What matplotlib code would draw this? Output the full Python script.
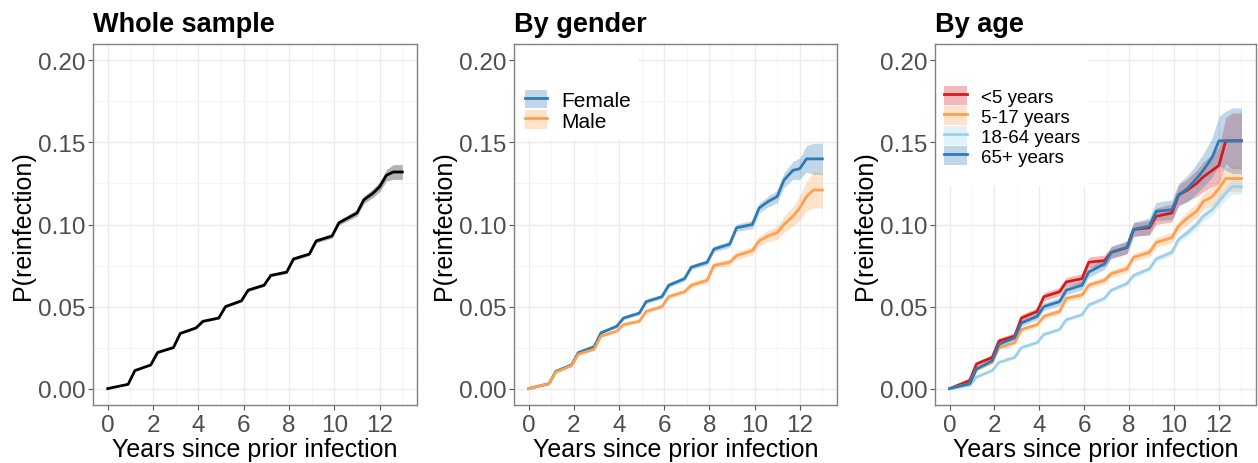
import matplotlib
matplotlib.use("Agg")
import matplotlib.pyplot as plt
from matplotlib.patches import Patch, Rectangle
from matplotlib.lines import Line2D

plt.rcParams['font.family'] = ['Liberation Sans', 'DejaVu Sans']

# time points (years since prior infection)
years = [0, 0.9, 1.2, 1.9, 2.2, 2.9, 3.2, 3.9, 4.2, 4.9, 5.2, 5.9, 6.2, 6.9, 7.2,
         7.9, 8.2, 8.9, 9.2, 9.9, 10.2, 10.6, 11.0, 11.3, 11.7, 12.0, 12.3, 12.6, 13.0]

# whole sample
whole = [0, 0.0026, 0.011, 0.0144, 0.022, 0.025, 0.0336, 0.037, 0.041, 0.043, 0.050,
         0.0535, 0.060, 0.063, 0.069, 0.071, 0.079, 0.082, 0.090, 0.093, 0.101, 0.104,
         0.107, 0.115, 0.119, 0.123, 0.130, 0.132, 0.132]
whole_ci = [0, 0.0003, 0.0004, 0.0004, 0.0005, 0.0005, 0.0005, 0.0006, 0.0006, 0.0006, 0.0007,
            0.0007, 0.0008, 0.0008, 0.0009, 0.0009, 0.001, 0.001, 0.0012, 0.0013, 0.0015, 0.0017,
            0.002, 0.0023, 0.0026, 0.003, 0.0035, 0.0045, 0.0045]

# by gender
female = [0, 0.003, 0.0105, 0.0145, 0.022, 0.0255, 0.034, 0.038, 0.043, 0.046, 0.053,
          0.056, 0.063, 0.067, 0.074, 0.077, 0.085, 0.088, 0.098, 0.100, 0.110, 0.114,
          0.117, 0.127, 0.133, 0.134, 0.140, 0.140, 0.140]
female_ci = [0, 0.0005, 0.0007, 0.0007, 0.0008, 0.0008, 0.0009, 0.001, 0.001, 0.0011, 0.0012,
             0.0012, 0.0013, 0.0014, 0.0015, 0.0016, 0.0018, 0.0019, 0.0022, 0.0025, 0.003, 0.0033,
             0.0038, 0.0045, 0.0055, 0.0065, 0.008, 0.0095, 0.0095]
male = [0, 0.003, 0.010, 0.014, 0.021, 0.024, 0.032, 0.035, 0.039, 0.041, 0.047,
        0.050, 0.056, 0.059, 0.063, 0.066, 0.075, 0.077, 0.081, 0.084, 0.090, 0.093,
        0.095, 0.100, 0.105, 0.110, 0.117, 0.121, 0.121]
male_ci = [0, 0.0005, 0.0007, 0.0007, 0.0008, 0.0008, 0.0009, 0.001, 0.001, 0.0011, 0.0012,
           0.0012, 0.0013, 0.0014, 0.0016, 0.0017, 0.0019, 0.002, 0.0023, 0.0026, 0.003, 0.0035,
           0.004, 0.005, 0.006, 0.0075, 0.009, 0.011, 0.011]

# by age
age_lt5 = [0, 0.005, 0.015, 0.019, 0.029, 0.032, 0.043, 0.047, 0.056, 0.059, 0.065,
           0.067, 0.077, 0.078, 0.083, 0.086, 0.097, 0.098, 0.105, 0.107, 0.118, 0.121,
           0.125, 0.129, 0.133, 0.136, 0.151, 0.151, 0.151]
age_lt5_ci = [0, 0.001, 0.0015, 0.0016, 0.0018, 0.002, 0.0022, 0.0023, 0.0025, 0.0026, 0.0028,
              0.003, 0.0032, 0.0034, 0.0036, 0.0038, 0.004, 0.0045, 0.005, 0.0055, 0.006, 0.007,
              0.008, 0.009, 0.010, 0.011, 0.014, 0.017, 0.017]
age_5_17 = [0, 0.003, 0.012, 0.016, 0.025, 0.028, 0.036, 0.039, 0.044, 0.047, 0.055,
            0.057, 0.063, 0.066, 0.070, 0.073, 0.080, 0.083, 0.089, 0.092, 0.099, 0.104,
            0.108, 0.114, 0.117, 0.122, 0.128, 0.128, 0.128]
age_5_17_ci = [0, 0.0006, 0.001, 0.001, 0.0012, 0.0012, 0.0014, 0.0015, 0.0016, 0.0017, 0.0018,
               0.0019, 0.002, 0.0021, 0.0022, 0.0023, 0.0025, 0.0027, 0.003, 0.0032, 0.0035, 0.004,
               0.0045, 0.005, 0.0055, 0.006, 0.007, 0.008, 0.008]
age_18_64 = [0, 0.002, 0.007, 0.011, 0.016, 0.019, 0.025, 0.028, 0.033, 0.036, 0.042,
             0.045, 0.051, 0.055, 0.060, 0.064, 0.069, 0.073, 0.079, 0.083, 0.091, 0.095,
             0.100, 0.105, 0.109, 0.114, 0.119, 0.123, 0.123]
age_18_64_ci = [0, 0.0004, 0.0006, 0.0006, 0.0007, 0.0007, 0.0008, 0.0008, 0.0009, 0.0009, 0.001,
                0.001, 0.0011, 0.0012, 0.0013, 0.0014, 0.0015, 0.0016, 0.0018, 0.002, 0.0022, 0.0025,
                0.0028, 0.003, 0.0033, 0.0036, 0.004, 0.0045, 0.0045]
age_65 = [0, 0.003, 0.012, 0.017, 0.027, 0.031, 0.040, 0.044, 0.050, 0.053, 0.060,
          0.063, 0.071, 0.076, 0.083, 0.086, 0.097, 0.099, 0.108, 0.109, 0.118, 0.122,
          0.128, 0.133, 0.141, 0.151, 0.151, 0.151, 0.151]
age_65_ci = [0, 0.0008, 0.0012, 0.0013, 0.0015, 0.0017, 0.002, 0.0021, 0.0023, 0.0025, 0.0027,
             0.0029, 0.0031, 0.0034, 0.0037, 0.004, 0.0045, 0.005, 0.0055, 0.006, 0.007, 0.008,
             0.009, 0.010, 0.012, 0.015, 0.018, 0.020, 0.020]

xticks = [0, 2, 4, 6, 8, 10, 12]
yticks = [0.00, 0.05, 0.10, 0.15, 0.20]
ytick_labels = ['0.00', '0.05', '0.10', '0.15', '0.20']

c_red = '#D7191C'
c_orange = '#FDA04F'
c_lblue = '#9CD2E8'
c_blue = '#2C7BB6'

W, H = 1258, 464
fig = plt.figure(figsize=(W / 100, H / 100), dpi=100)


def make_axes(left_px, right_px, title):
    ax = fig.add_axes([left_px / W, (H - 406) / H, (right_px - left_px) / W, 361 / H])
    ax.set_xlim(-0.65, 13.65)
    ax.set_ylim(-0.01, 0.21)
    ax.set_xticks(xticks)
    ax.set_xticks([1, 3, 5, 7, 9, 11, 13], minor=True)
    ax.set_yticks(yticks)
    ax.set_yticklabels(ytick_labels)
    ax.set_yticks([0.025, 0.075, 0.125, 0.175], minor=True)
    ax.grid(which='major', color='#EBEBEB', lw=1.0)
    ax.grid(which='minor', color='#F3F3F3', lw=0.6)
    ax.set_axisbelow(True)
    ax.tick_params(which='major', labelsize=17.5, labelcolor='#4D4D4D', color='#555555',
                   length=3.5, width=0.8, pad=2)
    ax.tick_params(axis='x', which='major', pad=3)
    ax.tick_params(which='minor', length=0)
    for s in ax.spines.values():
        s.set_color('#808080')
        s.set_linewidth(1.0)
    ax.set_xlabel('Years since prior infection', fontsize=18, labelpad=1)
    ax.set_ylabel('P(reinfection)', fontsize=18, labelpad=2)
    ax.set_title(title, loc='left', fontsize=19.5, fontweight='bold', pad=9)
    return ax


def band(ax, y, ci, color, alpha):
    lo = [a - b for a, b in zip(y, ci)]
    hi = [a + b for a, b in zip(y, ci)]
    ax.fill_between(years, lo, hi, color=color, alpha=alpha, lw=0, zorder=1.5)


def legend_bg(ax, x1, y0):
    # white legend background that hides the grid behind it
    ax.add_patch(Rectangle((0, y0), x1, 0.995 - y0, transform=ax.transAxes,
                           facecolor='white', edgecolor='none', zorder=0.9))


# Panel 1
ax1 = make_axes(93, 417, 'Whole sample')
band(ax1, whole, whole_ci, '#555555', 0.45)
ax1.plot(years, whole, color='black', lw=2, zorder=2)

# Panel 2
ax2 = make_axes(514, 837, 'By gender')
legend_bg(ax2, 0.384, 0.737)
band(ax2, female, female_ci, c_blue, 0.3)
band(ax2, male, male_ci, c_orange, 0.3)
ax2.plot(years, female, color=c_blue, lw=2, zorder=2)
ax2.plot(years, male, color=c_orange, lw=2, zorder=2)
h2 = [(Patch(color=c_blue, alpha=0.3, lw=0), Line2D([], [], color=c_blue, lw=2)),
      (Patch(color=c_orange, alpha=0.3, lw=0), Line2D([], [], color=c_orange, lw=2))]
ax2.legend(h2, ['Female', 'Male'], loc='upper left', bbox_to_anchor=(0.0, 0.905),
           borderaxespad=0, fontsize=15, handlelength=1.05, handleheight=1.0,
           labelspacing=0.0, handletextpad=0.65, borderpad=0.55, frameon=False)

# Panel 3
ax3 = make_axes(935, 1256, 'By age')
legend_bg(ax3, 0.476, 0.607)
age_series = [('<5 years', age_lt5, age_lt5_ci, c_red),
              ('5-17 years', age_5_17, age_5_17_ci, c_orange),
              ('18-64 years', age_18_64, age_18_64_ci, c_lblue),
              ('65+ years', age_65, age_65_ci, c_blue)]
for name, y, ci, col in age_series:
    band(ax3, y, ci, col, 0.3)
h3 = []
for name, y, ci, col in age_series:
    ax3.plot(years, y, color=col, lw=2, zorder=2)
    h3.append((Patch(color=col, alpha=0.3, lw=0), Line2D([], [], color=col, lw=2)))
ax3.legend(h3, [s[0] for s in age_series], loc='upper left', bbox_to_anchor=(0.0, 0.91),
           borderaxespad=0, fontsize=13.5, handlelength=1.2, handleheight=1.22,
           labelspacing=0.0, handletextpad=0.75, borderpad=0.5, frameon=False)

fig.savefig('out.png', dpi=100)
